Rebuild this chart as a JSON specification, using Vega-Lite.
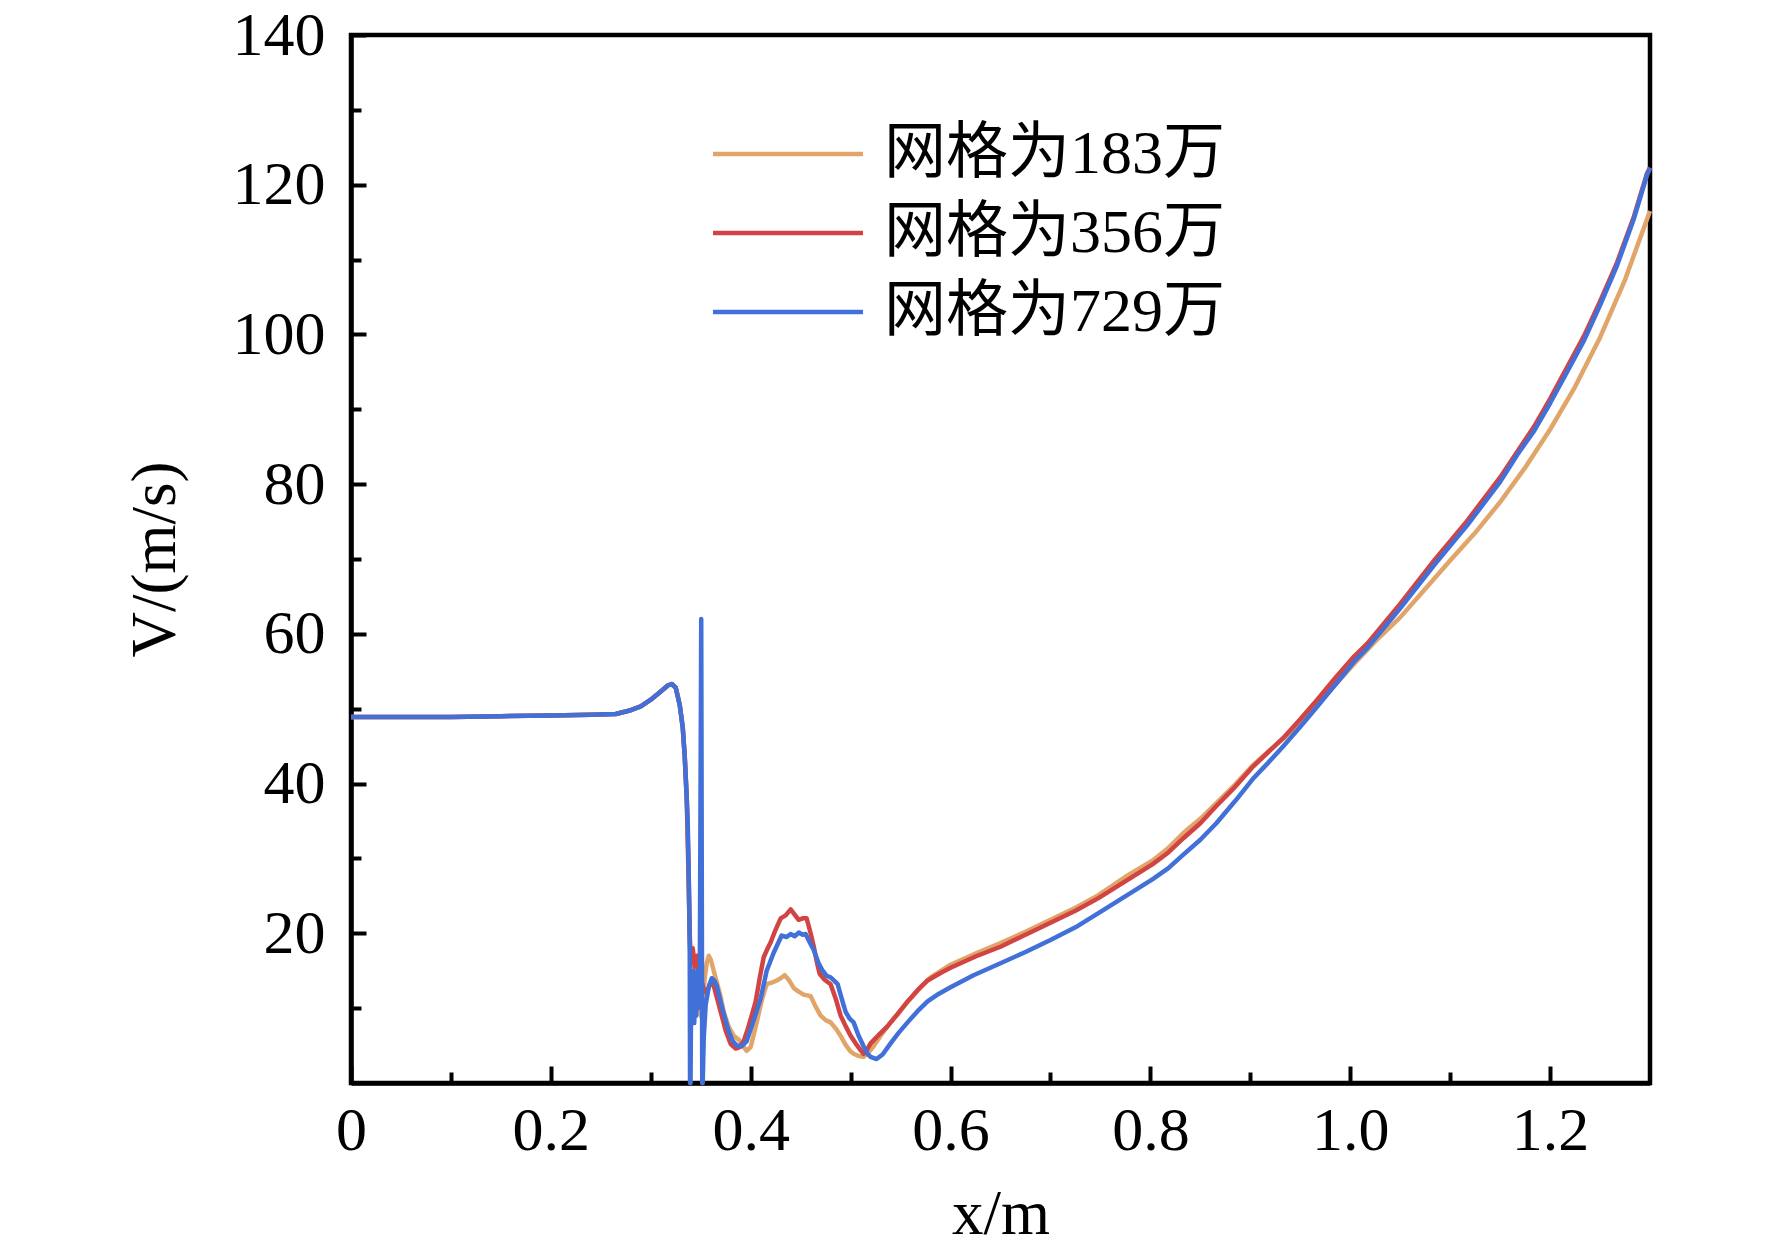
{
  "$schema": "https://vega.github.io/schema/vega-lite/v6.json",
  "width": 1299,
  "height": 1048,
  "autosize": "none",
  "padding": {"left": 351, "top": 35, "right": 122, "bottom": 171},
  "background": "white",
  "config": {
    "font": "Liberation Serif",
    "view": {"stroke": "black", "strokeWidth": 4.5},
    "axis": {
      "grid": false,
      "domainColor": "black", "domainWidth": 4.5,
      "tickColor": "black", "tickWidth": 4,
      "labelFont": "Liberation Serif", "labelFontSize": 62, "labelColor": "black",
      "titleFont": "Liberation Serif", "titleFontSize": 63, "titleFontWeight": "normal", "titleColor": "black"
    }
  },
  "datasets": {
    "curves": [
      {"x":0,"V":48.9,"s":"网格为183万"},{"x":0.05,"V":48.9,"s":"网格为183万"},{"x":0.1,"V":48.9,"s":"网格为183万"},{"x":0.15,"V":49.0,"s":"网格为183万"},{"x":0.2,"V":49.1,"s":"网格为183万"},{"x":0.24,"V":49.2,"s":"网格为183万"},{"x":0.265,"V":49.3,"s":"网格为183万"},{"x":0.28,"V":49.8,"s":"网格为183万"},{"x":0.29,"V":50.3,"s":"网格为183万"},{"x":0.3,"V":51.2,"s":"网格为183万"},{"x":0.31,"V":52.3,"s":"网格为183万"},{"x":0.317,"V":53.1,"s":"网格为183万"},{"x":0.321,"V":53.3,"s":"网格为183万"},{"x":0.325,"V":52.8,"s":"网格为183万"},{"x":0.329,"V":50.5,"s":"网格为183万"},{"x":0.332,"V":47.5,"s":"网格为183万"},{"x":0.334,"V":43.6,"s":"网格为183万"},{"x":0.336,"V":38.0,"s":"网格为183万"},
      {"x":0.337,"V":32,"s":"网格为183万"},{"x":0.338,"V":26,"s":"网格为183万"},{"x":0.339,"V":19,"s":"网格为183万"},{"x":0.34,"V":15,"s":"网格为183万"},{"x":0.342,"V":12,"s":"网格为183万"},{"x":0.344,"V":14,"s":"网格为183万"},{"x":0.346,"V":10,"s":"网格为183万"},{"x":0.348,"V":12,"s":"网格为183万"},{"x":0.35,"V":9,"s":"网格为183万"},{"x":0.352,"V":11,"s":"网格为183万"},{"x":0.354,"V":14,"s":"网格为183万"},{"x":0.356,"V":16.0,"s":"网格为183万"},{"x":0.358,"V":17.0,"s":"网格为183万"},{"x":0.36,"V":16.5,"s":"网格为183万"},{"x":0.363,"V":15.0,"s":"网格为183万"},{"x":0.366,"V":13.5,"s":"网格为183万"},{"x":0.37,"V":11.5,"s":"网格为183万"},{"x":0.373,"V":9.5,"s":"网格为183万"},{"x":0.378,"V":7.5,"s":"网格为183万"},{"x":0.383,"V":6.3,"s":"网格为183万"},{"x":0.388,"V":5.8,"s":"网格为183万"},{"x":0.392,"V":5.0,"s":"网格为183万"},{"x":0.396,"V":4.3,"s":"网格为183万"},{"x":0.4,"V":4.8,"s":"网格为183万"},{"x":0.406,"V":8.1,"s":"网格为183万"},{"x":0.411,"V":11.0,"s":"网格为183万"},{"x":0.416,"V":13.2,"s":"网格为183万"},{"x":0.421,"V":13.4,"s":"网格为183万"},{"x":0.426,"V":13.7,"s":"网格为183万"},{"x":0.43,"V":14.0,"s":"网格为183万"},{"x":0.434,"V":14.4,"s":"网格为183万"},{"x":0.438,"V":13.8,"s":"网格为183万"},{"x":0.443,"V":12.7,"s":"网格为183万"},{"x":0.448,"V":12.2,"s":"网格为183万"},{"x":0.453,"V":11.8,"s":"网格为183万"},{"x":0.46,"V":11.6,"s":"网格为183万"},{"x":0.465,"V":10.2,"s":"网格为183万"},{"x":0.47,"V":9.0,"s":"网格为183万"},{"x":0.475,"V":8.4,"s":"网格为183万"},{"x":0.48,"V":8.1,"s":"网格为183万"},{"x":0.485,"V":7.3,"s":"网格为183万"},{"x":0.49,"V":6.3,"s":"网格为183万"},{"x":0.495,"V":5.1,"s":"网格为183万"},{"x":0.5,"V":4.2,"s":"网格为183万"},{"x":0.503,"V":3.9,"s":"网格为183万"},{"x":0.508,"V":3.6,"s":"网格为183万"},{"x":0.513,"V":3.5,"s":"网格为183万"},{"x":0.518,"V":4.1,"s":"网格为183万"},{"x":0.523,"V":4.9,"s":"网格为183万"},{"x":0.531,"V":6.5,"s":"网格为183万"},{"x":0.54,"V":8.1,"s":"网格为183万"},{"x":0.55,"V":9.7,"s":"网格为183万"},{"x":0.56,"V":11.3,"s":"网格为183万"},{"x":0.57,"V":12.8,"s":"网格为183万"},{"x":0.58,"V":14.1,"s":"网格为183万"},{"x":0.593,"V":15.2,"s":"网格为183万"},{"x":0.6,"V":15.8,"s":"网格为183万"},{"x":0.625,"V":17.3,"s":"网格为183万"},{"x":0.65,"V":18.7,"s":"网格为183万"},{"x":0.675,"V":20.2,"s":"网格为183万"},{"x":0.7,"V":21.8,"s":"网格为183万"},{"x":0.725,"V":23.4,"s":"网格为183万"},{"x":0.748,"V":25.1,"s":"网格为183万"},{"x":0.778,"V":27.8,"s":"网格为183万"},{"x":0.802,"V":29.7,"s":"网格为183万"},{"x":0.818,"V":31.4,"s":"网格为183万"},{"x":0.833,"V":33.4,"s":"网格为183万"},{"x":0.85,"V":35.3,"s":"网格为183万"},{"x":0.866,"V":37.4,"s":"网格为183万"},{"x":0.885,"V":39.9,"s":"网格为183万"},{"x":0.903,"V":42.5,"s":"网格为183万"},{"x":0.918,"V":44.3,"s":"网格为183万"},{"x":0.933,"V":46.0,"s":"网格为183万"},{"x":0.95,"V":48.2,"s":"网格为183万"},{"x":0.967,"V":50.6,"s":"网格为183万"},{"x":0.985,"V":53.2,"s":"网格为183万"},{"x":1.004,"V":56.0,"s":"网格为183万"},{"x":1.025,"V":59.0,"s":"网格为183万"},{"x":1.05,"V":62.2,"s":"网格为183万"},{"x":1.075,"V":66.0,"s":"网格为183万"},{"x":1.1,"V":69.8,"s":"网格为183万"},{"x":1.125,"V":73.5,"s":"网格为183万"},{"x":1.15,"V":77.6,"s":"网格为183万"},{"x":1.175,"V":82.2,"s":"网格为183万"},{"x":1.2,"V":87.3,"s":"网格为183万"},{"x":1.225,"V":93.0,"s":"网格为183万"},{"x":1.25,"V":99.6,"s":"网格为183万"},{"x":1.275,"V":107.3,"s":"网格为183万"},{"x":1.3,"V":116.5,"s":"网格为183万"},

      {"x":0,"V":48.9,"s":"网格为356万"},{"x":0.05,"V":48.9,"s":"网格为356万"},{"x":0.1,"V":48.9,"s":"网格为356万"},{"x":0.15,"V":49.0,"s":"网格为356万"},{"x":0.2,"V":49.1,"s":"网格为356万"},{"x":0.24,"V":49.2,"s":"网格为356万"},{"x":0.265,"V":49.3,"s":"网格为356万"},{"x":0.28,"V":49.8,"s":"网格为356万"},{"x":0.29,"V":50.3,"s":"网格为356万"},{"x":0.3,"V":51.2,"s":"网格为356万"},{"x":0.31,"V":52.3,"s":"网格为356万"},{"x":0.317,"V":53.1,"s":"网格为356万"},{"x":0.321,"V":53.3,"s":"网格为356万"},{"x":0.325,"V":52.8,"s":"网格为356万"},{"x":0.329,"V":50.5,"s":"网格为356万"},{"x":0.332,"V":47.5,"s":"网格为356万"},{"x":0.334,"V":43.6,"s":"网格为356万"},{"x":0.336,"V":38.0,"s":"网格为356万"},
      {"x":0.337,"V":33,"s":"网格为356万"},{"x":0.338,"V":27,"s":"网格为356万"},{"x":0.339,"V":20,"s":"网格为356万"},{"x":0.34,"V":16,"s":"网格为356万"},{"x":0.342,"V":18,"s":"网格为356万"},{"x":0.344,"V":15.5,"s":"网格为356万"},{"x":0.346,"V":17,"s":"网格为356万"},{"x":0.348,"V":15,"s":"网格为356万"},{"x":0.35,"V":14,"s":"网格为356万"},{"x":0.353,"V":12.5,"s":"网格为356万"},{"x":0.356,"V":12.0,"s":"网格为356万"},{"x":0.359,"V":13.2,"s":"网格为356万"},{"x":0.362,"V":13.5,"s":"网格为356万"},{"x":0.366,"V":11.5,"s":"网格为356万"},{"x":0.37,"V":9.5,"s":"网格为356万"},{"x":0.375,"V":7.0,"s":"网格为356万"},{"x":0.38,"V":5.2,"s":"网格为356万"},{"x":0.385,"V":4.6,"s":"网格为356万"},{"x":0.389,"V":4.8,"s":"网格为356万"},{"x":0.393,"V":5.6,"s":"网格为356万"},{"x":0.397,"V":7.2,"s":"网格为356万"},{"x":0.401,"V":9.0,"s":"网格为356万"},{"x":0.405,"V":10.9,"s":"网格为356万"},{"x":0.409,"V":14.0,"s":"网格为356万"},{"x":0.413,"V":16.8,"s":"网格为356万"},{"x":0.417,"V":18.0,"s":"网格为356万"},{"x":0.42,"V":18.8,"s":"网格为356万"},{"x":0.425,"V":20.5,"s":"网格为356万"},{"x":0.43,"V":22.0,"s":"网格为356万"},{"x":0.435,"V":22.4,"s":"网格为356万"},{"x":0.44,"V":23.2,"s":"网格为356万"},{"x":0.444,"V":22.5,"s":"网格为356万"},{"x":0.448,"V":21.8,"s":"网格为356万"},{"x":0.452,"V":22.0,"s":"网格为356万"},{"x":0.456,"V":22.0,"s":"网格为356万"},{"x":0.46,"V":20.0,"s":"网格为356万"},{"x":0.463,"V":18.3,"s":"网格为356万"},{"x":0.466,"V":16.3,"s":"网格为356万"},{"x":0.469,"V":14.6,"s":"网格为356万"},{"x":0.474,"V":13.8,"s":"网格为356万"},{"x":0.48,"V":13.2,"s":"网格为356万"},{"x":0.485,"V":11.3,"s":"网格为356万"},{"x":0.49,"V":9.0,"s":"网格为356万"},{"x":0.495,"V":7.6,"s":"网格为356万"},{"x":0.5,"V":6.3,"s":"网格为356万"},{"x":0.505,"V":5.3,"s":"网格为356万"},{"x":0.51,"V":4.4,"s":"网格为356万"},{"x":0.513,"V":3.9,"s":"网格为356万"},{"x":0.517,"V":4.6,"s":"网格为356万"},{"x":0.52,"V":5.3,"s":"网格为356万"},{"x":0.528,"V":6.4,"s":"网格为356万"},{"x":0.537,"V":7.6,"s":"网格为356万"},{"x":0.547,"V":9.2,"s":"网格为356万"},{"x":0.557,"V":10.9,"s":"网格为356万"},{"x":0.567,"V":12.4,"s":"网格为356万"},{"x":0.577,"V":13.7,"s":"网格为356万"},{"x":0.59,"V":14.7,"s":"网格为356万"},{"x":0.6,"V":15.4,"s":"网格为356万"},{"x":0.625,"V":16.9,"s":"网格为356万"},{"x":0.65,"V":18.2,"s":"网格为356万"},{"x":0.675,"V":19.8,"s":"网格为356万"},{"x":0.7,"V":21.4,"s":"网格为356万"},{"x":0.725,"V":23.0,"s":"网格为356万"},{"x":0.748,"V":24.7,"s":"网格为356万"},{"x":0.778,"V":27.2,"s":"网格为356万"},{"x":0.802,"V":29.2,"s":"网格为356万"},{"x":0.818,"V":30.8,"s":"网格为356万"},{"x":0.833,"V":32.7,"s":"网格为356万"},{"x":0.85,"V":34.7,"s":"网格为356万"},{"x":0.866,"V":37.0,"s":"网格为356万"},{"x":0.885,"V":39.6,"s":"网格为356万"},{"x":0.903,"V":42.3,"s":"网格为356万"},{"x":0.918,"V":44.2,"s":"网格为356万"},{"x":0.933,"V":46.1,"s":"网格为356万"},{"x":0.95,"V":48.6,"s":"网格为356万"},{"x":0.967,"V":51.2,"s":"网格为356万"},{"x":0.985,"V":54.1,"s":"网格为356万"},{"x":1.004,"V":57.0,"s":"网格为356万"},{"x":1.017,"V":58.7,"s":"网格为356万"},{"x":1.05,"V":64.0,"s":"网格为356万"},{"x":1.084,"V":69.8,"s":"网格为356万"},{"x":1.117,"V":75.1,"s":"网格为356万"},{"x":1.15,"V":80.9,"s":"网格为356万"},{"x":1.184,"V":87.7,"s":"网格为356万"},{"x":1.2,"V":91.4,"s":"网格为356万"},{"x":1.217,"V":95.6,"s":"网格为356万"},{"x":1.234,"V":99.8,"s":"网格为356万"},{"x":1.25,"V":104.4,"s":"网格为356万"},{"x":1.267,"V":109.6,"s":"网格为356万"},{"x":1.284,"V":115.8,"s":"网格为356万"},{"x":1.297,"V":121.5,"s":"网格为356万"},{"x":1.3,"V":122.3,"s":"网格为356万"},

      {"x":0,"V":48.9,"s":"网格为729万"},{"x":0.05,"V":48.9,"s":"网格为729万"},{"x":0.1,"V":48.9,"s":"网格为729万"},{"x":0.15,"V":49.0,"s":"网格为729万"},{"x":0.2,"V":49.1,"s":"网格为729万"},{"x":0.24,"V":49.2,"s":"网格为729万"},{"x":0.265,"V":49.3,"s":"网格为729万"},{"x":0.28,"V":49.8,"s":"网格为729万"},{"x":0.29,"V":50.3,"s":"网格为729万"},{"x":0.3,"V":51.2,"s":"网格为729万"},{"x":0.31,"V":52.3,"s":"网格为729万"},{"x":0.317,"V":53.1,"s":"网格为729万"},{"x":0.321,"V":53.3,"s":"网格为729万"},{"x":0.325,"V":52.8,"s":"网格为729万"},{"x":0.329,"V":50.5,"s":"网格为729万"},{"x":0.332,"V":47.5,"s":"网格为729万"},{"x":0.334,"V":43.6,"s":"网格为729万"},{"x":0.336,"V":38.0,"s":"网格为729万"},
      {"x":0.337,"V":34.7,"s":"网格为729万"},{"x":0.338,"V":28,"s":"网格为729万"},{"x":0.339,"V":18,"s":"网格为729万"},{"x":0.3393,"V":0,"s":"网格为729万"},{"x":0.3398,"V":0,"s":"网格为729万"},{"x":0.3405,"V":14,"s":"网格为729万"},{"x":0.3415,"V":9,"s":"网格为729万"},{"x":0.3425,"V":15,"s":"网格为729万"},{"x":0.3435,"V":8,"s":"网格为729万"},{"x":0.3445,"V":14,"s":"网格为729万"},{"x":0.3455,"V":9,"s":"网格为729万"},{"x":0.3465,"V":15,"s":"网格为729万"},{"x":0.3475,"V":10,"s":"网格为729万"},{"x":0.349,"V":12,"s":"网格为729万"},{"x":0.3505,"V":62,"s":"网格为729万"},{"x":0.3515,"V":0,"s":"网格为729万"},{"x":0.352,"V":0,"s":"网格为729万"},{"x":0.353,"V":6,"s":"网格为729万"},{"x":0.355,"V":10.5,"s":"网格为729万"},{"x":0.358,"V":12.8,"s":"网格为729万"},{"x":0.361,"V":14.0,"s":"网格为729万"},{"x":0.364,"V":13.6,"s":"网格为729万"},{"x":0.366,"V":13.0,"s":"网格为729万"},{"x":0.37,"V":10.8,"s":"网格为729万"},{"x":0.374,"V":8.8,"s":"网格为729万"},{"x":0.378,"V":6.9,"s":"网格为729万"},{"x":0.382,"V":5.6,"s":"网格为729万"},{"x":0.386,"V":5.0,"s":"网格为729万"},{"x":0.391,"V":4.9,"s":"网格为729万"},{"x":0.396,"V":5.6,"s":"网格为729万"},{"x":0.4,"V":7.2,"s":"网格为729万"},{"x":0.405,"V":9.2,"s":"网格为729万"},{"x":0.41,"V":11.3,"s":"网格为729万"},{"x":0.416,"V":15.0,"s":"网格为729万"},{"x":0.423,"V":17.4,"s":"网格为729万"},{"x":0.431,"V":19.7,"s":"网格为729万"},{"x":0.436,"V":19.5,"s":"网格为729万"},{"x":0.44,"V":19.9,"s":"网格为729万"},{"x":0.444,"V":19.6,"s":"网格为729万"},{"x":0.448,"V":20.1,"s":"网格为729万"},{"x":0.452,"V":19.8,"s":"网格为729万"},{"x":0.455,"V":19.9,"s":"网格为729万"},{"x":0.459,"V":18.8,"s":"网格为729万"},{"x":0.463,"V":17.8,"s":"网格为729万"},{"x":0.468,"V":16.0,"s":"网格为729万"},{"x":0.472,"V":15.0,"s":"网格为729万"},{"x":0.476,"V":14.3,"s":"网格为729万"},{"x":0.48,"V":14.1,"s":"网格为729万"},{"x":0.484,"V":13.6,"s":"网格为729万"},{"x":0.487,"V":13.2,"s":"网格为729万"},{"x":0.491,"V":11.3,"s":"网格为729万"},{"x":0.495,"V":9.5,"s":"网格为729万"},{"x":0.499,"V":8.6,"s":"网格为729万"},{"x":0.503,"V":8.1,"s":"网格为729万"},{"x":0.508,"V":6.3,"s":"网格为729万"},{"x":0.513,"V":4.9,"s":"网格为729万"},{"x":0.517,"V":3.9,"s":"网格为729万"},{"x":0.52,"V":3.5,"s":"网格为729万"},{"x":0.526,"V":3.2,"s":"网格为729万"},{"x":0.532,"V":3.8,"s":"网格为729万"},{"x":0.54,"V":5.3,"s":"网格为729万"},{"x":0.548,"V":6.7,"s":"网格为729万"},{"x":0.557,"V":8.1,"s":"网格为729万"},{"x":0.567,"V":9.6,"s":"网格为729万"},{"x":0.577,"V":10.9,"s":"网格为729万"},{"x":0.588,"V":11.9,"s":"网格为729万"},{"x":0.6,"V":12.8,"s":"网格为729万"},{"x":0.623,"V":14.4,"s":"网格为729万"},{"x":0.65,"V":16.0,"s":"网格为729万"},{"x":0.675,"V":17.5,"s":"网格为729万"},{"x":0.7,"V":19.1,"s":"网格为729万"},{"x":0.725,"V":20.8,"s":"网格为729万"},{"x":0.748,"V":22.7,"s":"网格为729万"},{"x":0.778,"V":25.2,"s":"网格为729万"},{"x":0.802,"V":27.2,"s":"网格为729万"},{"x":0.818,"V":28.7,"s":"网格为729万"},{"x":0.833,"V":30.5,"s":"网格为729万"},{"x":0.85,"V":32.5,"s":"网格为729万"},{"x":0.866,"V":34.7,"s":"网格为729万"},{"x":0.885,"V":37.7,"s":"网格为729万"},{"x":0.903,"V":40.7,"s":"网格为729万"},{"x":0.918,"V":42.8,"s":"网格为729万"},{"x":0.933,"V":45.0,"s":"网格为729万"},{"x":0.95,"V":47.6,"s":"网格为729万"},{"x":0.967,"V":50.3,"s":"网格为729万"},{"x":0.985,"V":53.2,"s":"网格为729万"},{"x":1.004,"V":56.3,"s":"网格为729万"},{"x":1.017,"V":58.1,"s":"网格为729万"},{"x":1.05,"V":63.4,"s":"网格为729万"},{"x":1.084,"V":69.2,"s":"网格为729万"},{"x":1.117,"V":74.5,"s":"网格为729万"},{"x":1.15,"V":80.3,"s":"网格为729万"},{"x":1.167,"V":83.9,"s":"网格为729万"},{"x":1.184,"V":87.1,"s":"网格为729万"},{"x":1.2,"V":90.8,"s":"网格为729万"},{"x":1.217,"V":95.0,"s":"网格为729万"},{"x":1.234,"V":99.2,"s":"网格为729万"},{"x":1.25,"V":103.9,"s":"网格为729万"},{"x":1.267,"V":109.2,"s":"网格为729万"},{"x":1.284,"V":115.5,"s":"网格为729万"},{"x":1.297,"V":121.3,"s":"网格为729万"},{"x":1.3,"V":122.2,"s":"网格为729万"}
    ]
  },
  "data": {"name": "curves"},
  "layer": [
    {
      "transform": [{"filter": "datum.s == '网格为183万'"}],
      "mark": {"type": "line", "strokeWidth": 4.5, "strokeJoin": "round"},
      "encoding": {
        "x": {
          "field": "x", "type": "quantitative",
          "scale": {"domain": [0, 1.3], "nice": false, "zero": false},
          "axis": {
            "orient": "bottom", "values": [0, 0.2, 0.4, 0.6, 0.8, 1.0, 1.2],
            "labelExpr": "datum.value == 0 ? '0' : format(datum.value, '.1f')",
            "tickSize": -17, "labelPadding": 34, "labelFlush": false, "labelOverlap": false,
            "title": "x/m", "titlePadding": 22
          }
        },
        "y": {
          "field": "V", "type": "quantitative",
          "scale": {"domain": [0, 140], "nice": false},
          "axis": {
            "orient": "left", "values": [20, 40, 60, 80, 100, 120, 140],
            "tickSize": -15, "labelPadding": 41, "labelFlush": false, "labelOverlap": false,
            "title": "V/(m/s)", "titlePadding": 45
          }
        },
        "color": {
          "field": "s", "type": "nominal",
          "scale": {"domain": ["网格为183万", "网格为356万", "网格为729万"], "range": ["#E1A56A", "#D24343", "#4170D8"]},
          "legend": {
            "orient": "none", "legendX": 397, "legendY": 79, "title": null, "padding": 0,
            "symbolType": "M-2,0H2", "symbolSize": 5625, "symbolStrokeWidth": 4.5,
            "labelFont": "Liberation Serif, Noto Sans CJK SC", "labelFontSize": 62, "labelColor": "black",
            "labelOffset": 56, "rowPadding": 8, "labelLimit": 0
          }
        }
      }
    },
    {
      "transform": [{"filter": "datum.s == '网格为356万'"}],
      "mark": {"type": "line", "strokeWidth": 4.5, "strokeJoin": "round"},
      "encoding": {
        "x": {"field": "x", "type": "quantitative", "axis": null},
        "y": {"field": "V", "type": "quantitative", "axis": null},
        "color": {"field": "s", "type": "nominal"}
      }
    },
    {
      "transform": [{"filter": "datum.s == '网格为729万'"}],
      "mark": {"type": "line", "strokeWidth": 4.5, "strokeJoin": "round"},
      "encoding": {
        "x": {"field": "x", "type": "quantitative", "axis": null},
        "y": {"field": "V", "type": "quantitative", "axis": null},
        "color": {"field": "s", "type": "nominal"}
      }
    },
    {
      "transform": [{"filter": "datum.s == '网格为729万'"}],
      "mark": {"type": "line", "opacity": 0},
      "encoding": {
        "x": {
          "field": "x", "type": "quantitative",
          "axis": {"orient": "bottom", "values": [0.1, 0.3, 0.5, 0.7, 0.9, 1.1], "labels": false, "domain": false, "tickSize": -11, "title": null}
        },
        "y": {
          "field": "V", "type": "quantitative",
          "axis": {"orient": "left", "values": [10, 30, 50, 70, 90, 110, 130], "labels": false, "domain": false, "tickSize": -10, "title": null}
        }
      }
    }
  ],
  "resolve": {"axis": {"x": "independent", "y": "independent"}}
}
